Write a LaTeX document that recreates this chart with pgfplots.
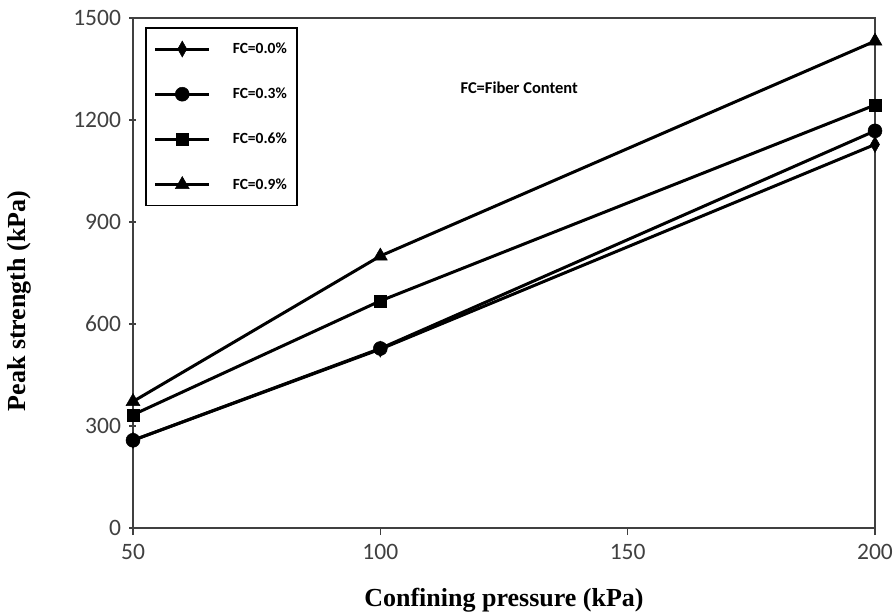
\documentclass[border=0pt]{standalone}
\usepackage{pgfplots}
\pgfplotsset{compat=1.18}
\usepackage{fontspec}
\setmainfont{Liberation Serif}
\newfontfamily\tickfont{Carlito}
\definecolor{tickgray}{HTML}{404040}
\begin{document}
\begin{tikzpicture}[x=1pt,y=1pt]
\begin{axis}[
  at={(0pt,0pt)}, anchor=south west,
  scale only axis,
  width=742pt, height=510pt,
  xmin=50, xmax=200, ymin=0, ymax=1500,
  xtick={50,100,150,200},
  ytick={0,300,600,900,1200,1500},
  tick pos=left,
  xtick align=outside,
  ytick align=center,
  major tick length=7pt,
  axis line style={line width=1.2pt, draw=black!75},
  every tick/.style={line width=1.2pt, black!75},
  /pgf/number format/assume math mode=true,
  /pgf/number format/1000 sep={},
  ticklabel style={font=\tickfont\fontsize{23.5}{28}\selectfont, text=tickgray},
  yticklabel style={anchor=east, xshift=-5pt},
  xticklabel style={anchor=north, yshift=-6pt},
  xlabel={\bfseries Confining pressure (kPa)},
  ylabel={\bfseries Peak strength (kPa)},
  xlabel style={font=\fontsize{26}{30}\selectfont, at={(axis description cs:0.5,-0.153)}, anchor=base},
  ylabel style={font=\fontsize{26}{30}\selectfont, at={(axis description cs:-0.153,0.445)}, anchor=center},
  legend cell align=left,
  legend style={at={(rel axis cs:0.0162,0.982)}, anchor=north west,
    font=\tickfont\bfseries\fontsize{15.5}{18}\selectfont,
    draw=black, line width=1.5pt, row sep=29pt,
    inner xsep=8pt, inner ysep=13pt},
  legend image code/.code={
    \draw[#1, mark repeat=2, mark phase=2] plot coordinates {(0pt,0pt) (27pt,0pt) (54pt,0pt)};
  },
  every axis plot/.append style={line width=3pt, black},
]
\addplot[mark=diamond*, mark size=8pt, mark options={solid, fill=black, line width=0.5pt, xscale=0.75}] coordinates {(50,258) (100,526) (200,1128)};
\addlegendentry{\hspace{20pt}FC=0.0\%\hspace{24pt}}
\addplot[mark=*, mark size=7pt, mark options={solid, fill=black, line width=0.5pt}] coordinates {(50,258) (100,528) (200,1168)};
\addlegendentry{\hspace{20pt}FC=0.3\%\hspace{24pt}}
\addplot[mark=square*, mark size=6pt, mark options={solid, fill=black, line width=0.5pt}] coordinates {(50,333) (100,668) (200,1244)};
\addlegendentry{\hspace{20pt}FC=0.6\%\hspace{24pt}}
\addplot[mark=triangle*, mark size=8pt, mark options={solid, fill=black, line width=0.5pt}] coordinates {(50,372) (100,800) (200,1432)};
\addlegendentry{\hspace{20pt}FC=0.9\%\hspace{24pt}}
\node[font=\tickfont\bfseries\fontsize{16.5}{19}\selectfont, anchor=west] at (axis cs:115.5,1294) {FC=Fiber Content};
\end{axis}
\pgfresetboundingbox
\useasboundingbox (-133pt,-86pt) rectangle (763pt,528pt);
\end{tikzpicture}
\end{document}
